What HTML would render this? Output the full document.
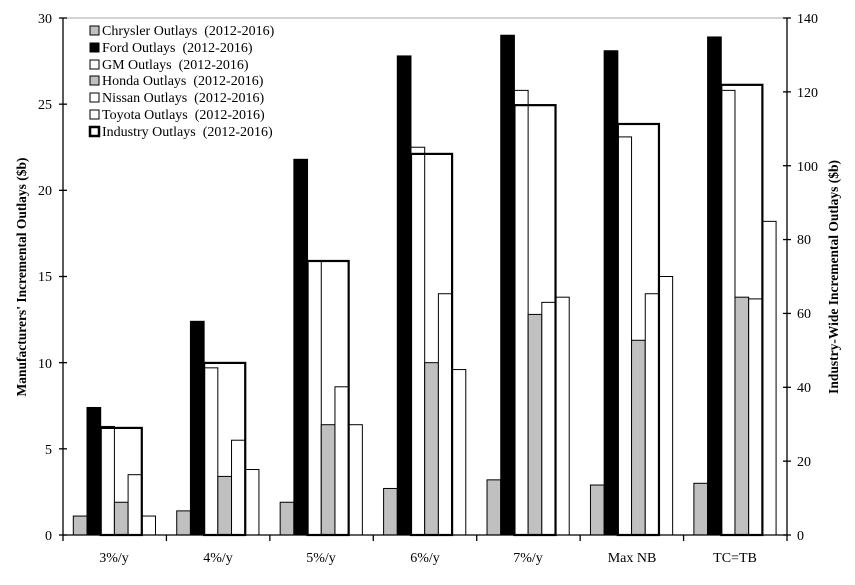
<!DOCTYPE html>
<html><head><meta charset="utf-8"><style>
html,body{margin:0;padding:0;background:#fff;}
svg{display:block;font-family:"Liberation Serif",serif;}
text{white-space:pre;}
</style></head><body>
<svg id="s" width="855" height="585" viewBox="0 0 855 585" xmlns="http://www.w3.org/2000/svg">
<line x1="63" y1="18" x2="787" y2="18" stroke="#aaa" stroke-width="1"/>
<g id="bars"></g>
<g stroke="#000" stroke-width="1.3" fill="none">
<line x1="63" y1="18" x2="63" y2="535"/>
<line x1="787" y1="18" x2="787" y2="535"/>
<line x1="63" y1="535" x2="787" y2="535"/>
</g>
<g id="ticks" stroke="#000" stroke-width="1.3"></g>
<g font-size="14" text-anchor="end">
<text x="52" y="540">0</text><text x="52" y="454">5</text><text x="52" y="368">10</text><text x="52" y="281">15</text><text x="52" y="195">20</text><text x="52" y="109">25</text><text x="52" y="23">30</text>
</g>
<g font-size="14" text-anchor="start">
<text x="797" y="540">0</text><text x="797" y="466">20</text><text x="797" y="392">40</text><text x="797" y="318">60</text><text x="797" y="244">80</text><text x="797" y="171">100</text><text x="797" y="97">120</text><text x="797" y="23">140</text>
</g>
<g font-size="14" text-anchor="middle">
<text x="114" y="562">3%/y</text><text x="218" y="562">4%/y</text><text x="321" y="562">5%/y</text><text x="425" y="562">6%/y</text><text x="528" y="562">7%/y</text><text x="632" y="562">Max NB</text><text x="735" y="562">TC=TB</text>
</g>
<text transform="translate(26,277) rotate(-90)" font-size="13.5" font-weight="bold" text-anchor="middle">Manufacturers' Incremental Outlays ($b)</text>
<text transform="translate(838,277) rotate(-90)" font-size="13.5" font-weight="bold" text-anchor="middle">Industry-Wide Incremental Outlays ($b)</text>
<g font-size="14">
<rect x="90" y="26" width="9" height="9" fill="#c0c0c0" stroke="#000"/><text x="102" y="35">Chrysler Outlays  (2012-2016)</text>
<rect x="90" y="43" width="9" height="9" fill="#000" stroke="#000"/><text x="102" y="52">Ford Outlays  (2012-2016)</text>
<rect x="90" y="60" width="9" height="9" fill="#fff" stroke="#000"/><text x="102" y="69">GM Outlays  (2012-2016)</text>
<rect x="90" y="76" width="9" height="9" fill="#c0c0c0" stroke="#000"/><text x="102" y="85">Honda Outlays  (2012-2016)</text>
<rect x="90" y="93" width="9" height="9" fill="#fff" stroke="#000"/><text x="102" y="102">Nissan Outlays  (2012-2016)</text>
<rect x="90" y="110" width="9" height="9" fill="#fff" stroke="#000"/><text x="102" y="119">Toyota Outlays  (2012-2016)</text>
<rect x="90" y="127" width="9" height="9" fill="#fff" stroke="#000" stroke-width="2.5"/><text x="102" y="136">Industry Outlays  (2012-2016)</text>
</g>
</svg>
<script>
var d=[[1.1,7.4,6.3,1.9,3.5,1.1,29.0],[1.4,12.4,9.7,3.4,5.5,3.8,46.6],[1.9,21.8,15.9,6.4,8.6,6.4,74.2],[2.7,27.8,22.5,10.0,14.0,9.6,103.2],[3.2,29.0,25.8,12.8,13.5,13.8,116.4],[2.9,28.1,23.1,11.3,14.0,15.0,111.3],[3.0,28.9,25.8,13.8,13.7,18.2,121.9]];
var fills=["#c0c0c0","#000","#fff","#c0c0c0","#fff","#fff"];
var ns="http://www.w3.org/2000/svg",g=document.getElementById("bars"),t=document.getElementById("ticks");
function el(p,n,a){var e=document.createElementNS(ns,n);for(var k in a)e.setAttribute(k,a[k]);p.appendChild(e);return e;}
var W=103.43,bw=13.7,y0=535,H=517;
for(var i=0;i<7;i++){var gx=63+i*W+10.3;
 for(var j=0;j<6;j++){var h=d[i][j]/30*H;el(g,"rect",{x:gx+j*bw,y:y0-h,width:bw,height:h,fill:fills[j],stroke:"#000","stroke-width":1});}
 var hi=d[i][6]/140*H;el(g,"rect",{x:gx+2*bw,y:y0-hi,width:3*bw,height:hi,fill:"none",stroke:"#000","stroke-width":2.2});
}
for(var k=0;k<=7;k++){var x=63+k*W;el(t,"line",{x1:x,y1:535,x2:x,y2:541});}
for(var k=0;k<=6;k++){var y=535-k*H/6;el(t,"line",{x1:59,y1:y,x2:67,y2:y});}
for(var k=0;k<=7;k++){var y=535-k*H/7;el(t,"line",{x1:783,y1:y,x2:791,y2:y});}
</script>
</body></html>
